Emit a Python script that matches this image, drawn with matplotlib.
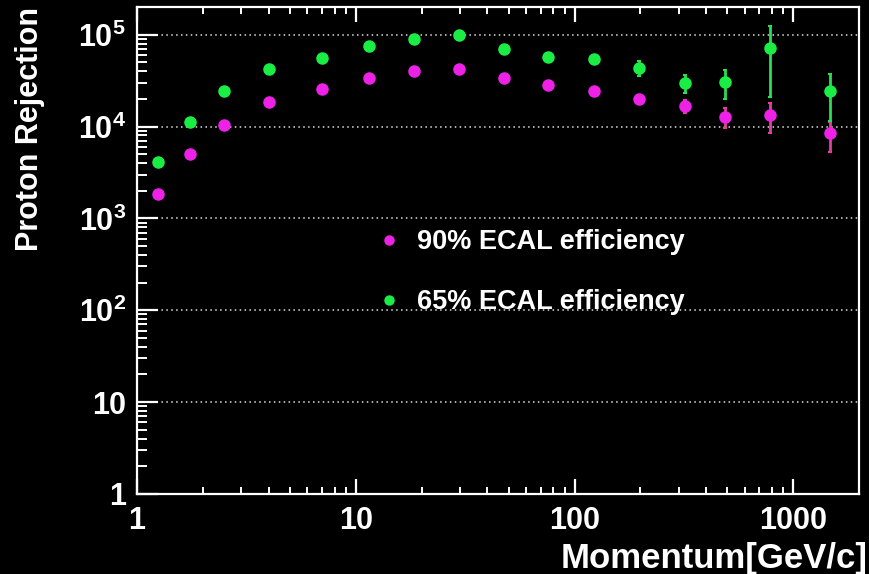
import numpy as np
import matplotlib
matplotlib.use('Agg')
import matplotlib.pyplot as plt
from matplotlib.ticker import LogLocator, FuncFormatter, NullFormatter
from matplotlib.lines import Line2D

plt.rcParams.update({'font.family': ['Liberation Sans', 'DejaVu Sans'],
                     'font.weight': 'bold',
                     'mathtext.default': 'regular'})

momentum = [1.25, 1.75, 2.5, 4.0, 7.0, 11.5, 18.5, 29.5, 47.5, 76, 123, 198, 320, 488, 785, 1470]

# 90% ECAL efficiency
rej90 = [1820, 4960, 10400, 18400, 25400, 33800, 39900, 42700, 34100, 28600,
         24400, 19800, 16600, 12800, 13200, 8460]
rej90_lo = [1820, 4960, 10400, 18400, 25400, 33800, 39900, 42700, 34100, 28600,
            24400, 19800, 13900, 9750, 8460, 5260]
rej90_hi = [1820, 4960, 10400, 18400, 25400, 33800, 39900, 42700, 34100, 28600,
            24400, 19800, 19500, 16000, 17900, 11200]

# 65% ECAL efficiency
rej65 = [4130, 11100, 24400, 42700, 55800, 75400, 89800, 99300, 70000, 57700,
         54500, 43800, 29900, 30600, 71700, 24400]
rej65_lo = [4130, 11100, 24400, 42700, 55800, 75400, 89800, 99300, 70000, 57700,
            54500, 35900, 23200, 20000, 20800, 11600]
rej65_hi = [4130, 11100, 24400, 42700, 55800, 75400, 89800, 99300, 70000, 57700,
            54500, 52200, 36500, 41300, 125000, 37400]

labels = ['90% ECAL efficiency', '65% ECAL efficiency']

MAG = '#ee22e6'
GRN = '#1aee44'
FG = 'white'

fig = plt.figure(figsize=(8.7, 5.74), dpi=100, facecolor='black')
ax = fig.add_axes([0.1575, 0.1394, 0.830, 0.8484], facecolor='black')
ax.set_xscale('log')
ax.set_yscale('log')
ax.set_xlim(1, 2000)
ax.set_ylim(1, 2e5)

for y, lo, hi, c, ec in [(rej90, rej90_lo, rej90_hi, MAG, '#e0409a'),
                         (rej65, rej65_lo, rej65_hi, GRN, '#2add55')]:
    y = np.array(y)
    err = [y - np.array(lo), np.array(hi) - y]
    ax.errorbar(momentum, y, yerr=err, fmt='o', color=c, ms=8, mec=c,
                ecolor=ec, elinewidth=2, capsize=1.5, capthick=1.5, zorder=3)

# horizontal dotted grid at each decade
ax.yaxis.grid(True, which='major', color='#dddddd', linestyle=(0, (1, 2.2)), linewidth=1.1)
ax.xaxis.grid(False)

for s in ax.spines.values():
    s.set_color(FG)
    s.set_linewidth(1.6)

ax.xaxis.set_major_locator(LogLocator(base=10, numticks=10))
ax.xaxis.set_minor_locator(LogLocator(base=10, subs=np.arange(2, 10), numticks=20))
ax.yaxis.set_major_locator(LogLocator(base=10, numticks=10))
ax.yaxis.set_minor_locator(LogLocator(base=10, subs=np.arange(2, 10), numticks=20))

def xfmt(v, pos):
    return '%d' % round(v)

def yfmt(v, pos):
    k = int(round(np.log10(v)))
    if k <= 1:
        return '%d' % round(v)
    return r'$10^{%d}$' % k

ax.xaxis.set_major_formatter(FuncFormatter(xfmt))
ax.yaxis.set_major_formatter(FuncFormatter(yfmt))
ax.xaxis.set_minor_formatter(NullFormatter())
ax.yaxis.set_minor_formatter(NullFormatter())

ax.tick_params(axis='x', which='major', direction='in', length=11, width=1.6,
               color=FG, labelcolor=FG, labelsize=22, pad=9, top=True, bottom=True)
ax.tick_params(axis='x', which='minor', direction='in', length=5, width=1.4,
               color=FG, top=True, bottom=True)
ax.tick_params(axis='y', which='major', direction='in', length=15, width=1.6,
               color=FG, labelcolor=FG, labelsize=22, pad=8, left=True, right=False)
ax.tick_params(axis='y', which='minor', direction='in', length=7, width=1.4,
               color=FG, left=True, right=False)

fig.text(868 / 870, 1 - 568 / 574, 'Momentum[GeV/c]', color=FG, fontsize=25,
         ha='right', va='baseline')
fig.text(30 / 870, 1 - 7 / 574, 'Proton Rejection', color=FG, fontsize=22,
         ha='center', va='top', rotation=90)

handles = [Line2D([], [], marker='o', ls='none', color=MAG, ms=6.5),
           Line2D([], [], marker='o', ls='none', color=GRN, ms=6.5)]
leg = fig.legend(handles, labels, loc='upper left', bbox_to_anchor=(381 / 870, 1 - 229 / 574),
                 frameon=False, fontsize=19.5, handlelength=0.6, handletextpad=0.73,
                 labelspacing=1.27, borderpad=0, borderaxespad=0)
for t in leg.get_texts():
    t.set_color(FG)

fig.savefig('out.png', dpi=100, facecolor='black')
